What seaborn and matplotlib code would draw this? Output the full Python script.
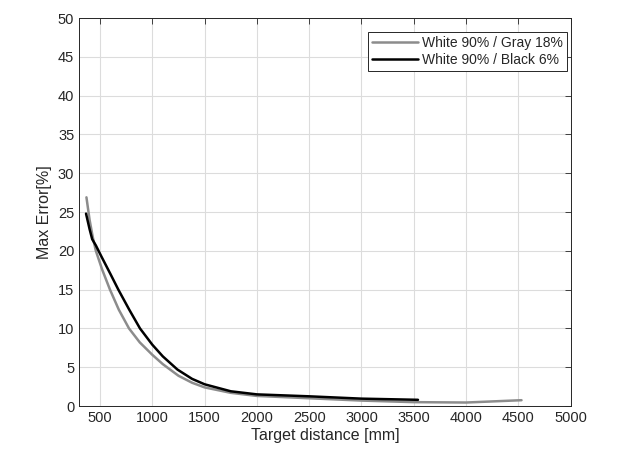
import matplotlib
matplotlib.use("Agg")
import matplotlib.pyplot as plt
import seaborn as sns
import pandas as pd

gray_x = [370, 400, 430, 460, 520, 595, 680, 777, 880, 1000, 1100, 1250, 1380, 1500, 1750, 2000, 2500, 3000, 3500, 4000, 4530]
gray_y = [26.9, 24.0, 21.8, 20.0, 17.6, 15.0, 12.4, 10.0, 8.2, 6.6, 5.4, 3.9, 3.0, 2.4, 1.7, 1.3, 1.0, 0.7, 0.5, 0.45, 0.75]
black_x = [366, 400, 425, 460, 512, 600, 675, 780, 882, 1000, 1100, 1240, 1380, 1500, 1750, 2000, 2500, 3000, 3540]
black_y = [24.8, 22.8, 21.5, 20.7, 19.3, 17.0, 15.0, 12.4, 10.0, 7.9, 6.4, 4.7, 3.5, 2.8, 1.9, 1.5, 1.25, 0.95, 0.8]
labels = ["White 90% / Gray 18%", "White 90% / Black 6%"]
x_ticks = [500, 1000, 1500, 2000, 2500, 3000, 3500, 4000, 4500, 5000]
y_ticks = [0, 5, 10, 15, 20, 25, 30, 35, 40, 45, 50]

df = pd.concat([
    pd.DataFrame({"x": gray_x, "y": gray_y, "s": labels[0]}),
    pd.DataFrame({"x": black_x, "y": black_y, "s": labels[1]}),
])

sns.set_style("white")
plt.rcParams["font.family"] = ["Liberation Sans", "DejaVu Sans"]

fig = plt.figure(figsize=(6.23, 4.58), dpi=100)
ax = fig.add_axes([0.127, 0.1135, 0.789, 0.847])
sns.lineplot(data=df, x="x", y="y", hue="s", sort=False, estimator=None,
             palette={labels[0]: "#8c8c8c", labels[1]: "#000000"}, linewidth=1.8, ax=ax)
ax.set_xlim(300, 5000)
ax.set_ylim(0, 50)
ax.set_xticks(x_ticks)
ax.set_yticks(y_ticks)
ax.grid(True, color="#dcdcdc", linewidth=0.8)
ax.tick_params(direction="in", length=4, colors="#262626", labelsize=10.5, width=0.6,
               top=True, right=True)
for s in ax.spines.values():
    s.set_color("#262626")
    s.set_linewidth(0.7)
ax.set_xlabel("Target distance [mm]", fontsize=11.5, color="#262626", labelpad=2)
ax.set_ylabel("Max Error[%]", fontsize=11.5, color="#262626", labelpad=4)
leg = ax.legend(loc="upper right", bbox_to_anchor=(0.993, 0.965), fontsize=10,
                frameon=True, fancybox=False, framealpha=1, edgecolor="#262626",
                handlelength=3.3, handletextpad=0.3, borderpad=0.3, labelspacing=0.2, borderaxespad=0)
leg.get_frame().set_linewidth(0.7)
fig.savefig("out.png", dpi=100)
